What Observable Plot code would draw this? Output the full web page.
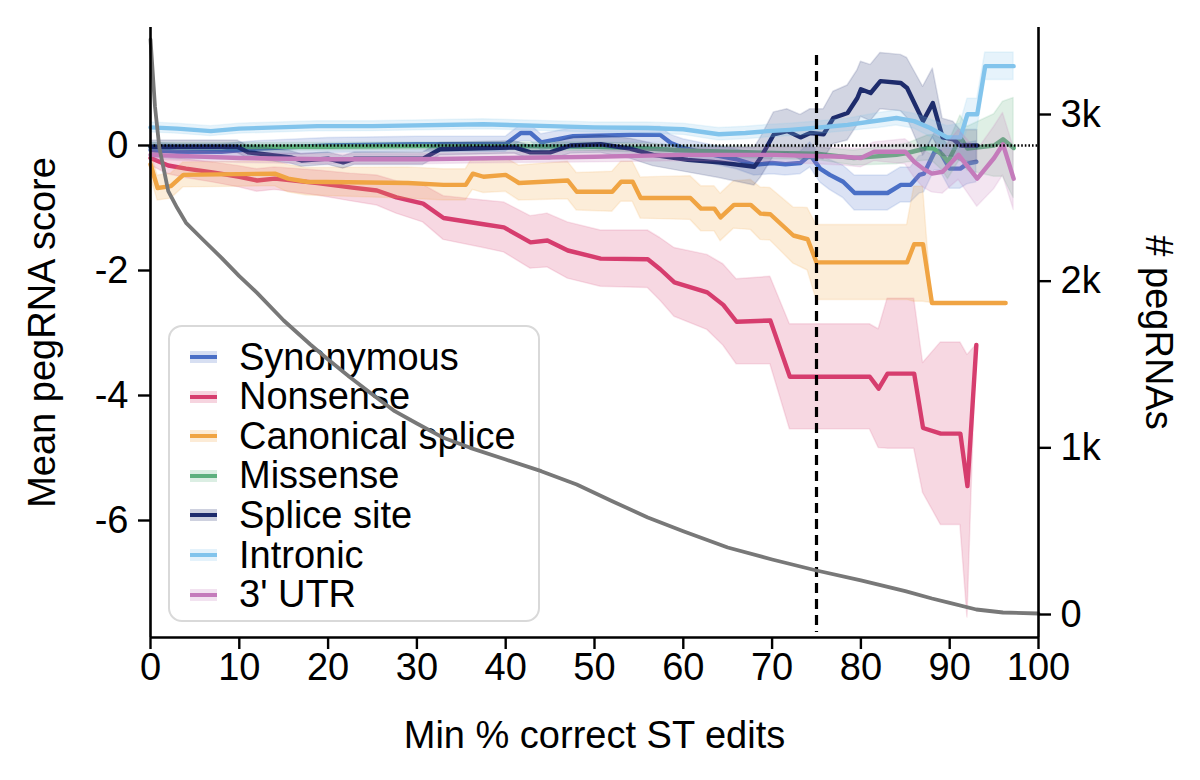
<!DOCTYPE html>
<html>
<head>
<meta charset="utf-8">
<script src="https://cdn.jsdelivr.net/npm/d3@7"></script>
<script src="https://cdn.jsdelivr.net/npm/@observablehq/plot@0.6"></script>
<style>
  body { margin: 0; background: white; }
  #wrap { position: relative; width: 1200px; height: 780px; font-family: 'Liberation Sans', Arial, Helvetica, sans-serif; }
  #legend { position: absolute; left: 168px; top: 325px; width: 368px; height: 293px; border: 2px solid #d9d9d9; border-radius: 14px; background: white; z-index: 0; }
  #chart { position: absolute; left: 0; top: 0; z-index: 1; }
  .row { position: absolute; left: 20px; height: 40px; display: flex; align-items: center; font-size: 38px; color: #000; white-space: nowrap; }
  .hd { position: relative; width: 27px; height: 12px; margin-right: 22px; }
  .hd .band { position: absolute; left: 0; top: 0; width: 27px; height: 12px; opacity: 0.22; }
  .hd .ln { position: absolute; left: 0; top: 4px; width: 27px; height: 4px; }
</style>
</head>
<body>
<div id="wrap">
  <div id="legend"></div>
  <div id="chart"></div>
</div>
<script>
// ---- categories and colours ----
const categories = ["Synonymous", "Nonsense", "Canonical splice", "Missense", "Splice site", "Intronic", "3' UTR"];
const colors = ["#4a6fc6", "#d63d6e", "#f0a443", "#5db07e", "#1e2c6c", "#82c4ec", "#c47bbb"];

// ---- series (x = min % correct ST edits, mean score, CI half-width) ----
const synX = [0, 3, 8, 12, 20, 30, 40, 41.7, 42.8, 44, 47.6, 54, 57.4, 58.6, 60, 63.4, 66, 68, 70, 71.5, 73.2, 74.3, 75.4, 76.5, 78, 79.3, 83, 84.5, 85.6, 86.6, 87.1, 88.3, 88.9, 90, 91.2, 92, 93];
const synMean = [-0.07, -0.1, -0.1, -0.05, 0, 0.02, 0.02, 0.2, 0.2, 0.05, 0.15, 0.17, 0.17, 0.04, -0.04, -0.15, -0.22, -0.31, -0.28, -0.3, -0.28, -0.15, -0.37, -0.47, -0.58, -0.76, -0.76, -0.63, -0.63, -0.47, -0.45, -0.1, -0.1, -0.37, -0.37, -0.29, -0.26];
const synErr = [0.12, 0.12, 0.12, 0.12, 0.12, 0.12, 0.12, 0.13, 0.13, 0.13, 0.13, 0.13, 0.13, 0.13, 0.14, 0.15, 0.16, 0.17, 0.18, 0.18, 0.18, 0.2, 0.22, 0.24, 0.26, 0.28, 0.28, 0.28, 0.28, 0.3, 0.3, 0.3, 0.3, 0.32, 0.32, 0.33, 0.33];

const nonX = [0, 2, 4, 7, 10, 12, 14, 18.8, 22.5, 25.5, 27.7, 30.7, 33, 37.5, 39.8, 42.8, 44.7, 47, 50.7, 56, 57.4, 59, 62.7, 64.5, 66, 69.8, 72, 81, 82, 83, 86, 87, 89, 91.2, 92, 93];
const nonMean = [-0.2, -0.32, -0.37, -0.43, -0.5, -0.56, -0.53, -0.6, -0.67, -0.72, -0.83, -0.93, -1.16, -1.26, -1.31, -1.55, -1.52, -1.68, -1.81, -1.82, -1.98, -2.19, -2.35, -2.55, -2.82, -2.8, -3.7, -3.7, -3.89, -3.65, -3.65, -4.52, -4.61, -4.61, -5.45, -3.19];
const nonErr = [0.12, 0.14, 0.15, 0.16, 0.17, 0.18, 0.18, 0.2, 0.22, 0.24, 0.26, 0.3, 0.35, 0.38, 0.4, 0.42, 0.43, 0.45, 0.45, 0.46, 0.5, 0.55, 0.6, 0.65, 0.68, 0.7, 0.84, 0.84, 0.95, 1.2, 1.2, 1.04, 1.46, 1.46, 2.1, 0];

const canX = [0, 0.8, 2.3, 3.7, 14, 15.5, 17.6, 29, 33, 35.5, 36.3, 37.5, 40, 41.5, 47, 48, 52, 53, 54.3, 55.2, 60.8, 62, 63.5, 64.2, 65.7, 67.6, 68.7, 69.8, 72.4, 74, 75, 85.2, 86, 87, 88, 96.3];
const canMean = [-0.3, -0.68, -0.65, -0.47, -0.45, -0.53, -0.58, -0.6, -0.63, -0.63, -0.45, -0.5, -0.47, -0.6, -0.56, -0.74, -0.74, -0.58, -0.58, -0.84, -0.84, -1.01, -1.01, -1.15, -0.95, -0.95, -1.09, -1.1, -1.44, -1.5, -1.87, -1.87, -1.58, -1.58, -2.52, -2.52];
const canErr = [0.2, 0.2, 0.2, 0.2, 0.2, 0.22, 0.22, 0.25, 0.25, 0.25, 0.26, 0.26, 0.27, 0.28, 0.3, 0.3, 0.32, 0.32, 0.32, 0.33, 0.35, 0.36, 0.36, 0.38, 0.38, 0.4, 0.42, 0.42, 0.45, 0.5, 0.6, 0.6, 0.92, 0.92, 0, 0];

const misX = [0, 10, 20, 30, 40, 50, 55, 60, 65, 70, 75, 79.2, 84, 85.2, 87.5, 88.2, 89.2, 89.8, 91.2, 92, 95, 96, 97.2];
const misMean = [-0.02, -0.02, -0.02, -0.01, -0.01, -0.02, -0.04, -0.08, -0.1, -0.12, -0.13, -0.2, -0.15, -0.12, -0.04, -0.05, -0.15, -0.26, 0.13, -0.05, 0, 0.1, -0.04];
const misErr = [0.06, 0.06, 0.06, 0.06, 0.06, 0.07, 0.07, 0.08, 0.09, 0.1, 0.1, 0.12, 0.15, 0.15, 0.2, 0.22, 0.25, 0.28, 0.35, 0.35, 0.5, 0.6, 0.8];

const splX = [0, 9.8, 11, 15.8, 17, 20, 21.7, 23, 30.7, 32.6, 41, 42.8, 45, 47.3, 50.7, 54, 56.6, 60.5, 64, 68, 68.7, 70.2, 71.7, 73.2, 74.3, 75.8, 76.9, 78.5, 79.6, 80, 81.1, 82.2, 84.5, 85.2, 87, 88.1, 89.2, 90.4, 91.2, 93.1];
const splMean = [-0.02, -0.02, -0.11, -0.19, -0.24, -0.21, -0.27, -0.21, -0.21, -0.06, -0.03, -0.11, -0.11, 0, 0.02, -0.05, -0.15, -0.23, -0.27, -0.34, -0.2, 0.18, 0.23, 0.13, 0.2, 0.18, 0.44, 0.52, 0.76, 0.9, 0.84, 1.03, 1.0, 0.92, 0.39, 0.68, 0.13, 0.1, 0, 0];
const splErr = [0.1, 0.1, 0.1, 0.1, 0.1, 0.1, 0.1, 0.1, 0.1, 0.1, 0.1, 0.11, 0.12, 0.13, 0.14, 0.16, 0.18, 0.2, 0.25, 0.3, 0.32, 0.35, 0.35, 0.36, 0.38, 0.4, 0.42, 0.44, 0.44, 0.44, 0.45, 0.45, 0.45, 0.48, 0.55, 0.55, 0.3, 0.28, 0.25, 0.25];

const intX = [0, 3, 6.8, 10, 18.8, 25, 37.5, 45, 50, 56, 60, 64, 67, 69.5, 72, 74.7, 78.5, 82, 84, 86, 87.8, 89.7, 91.2, 92, 93.1, 94, 97.2];
const intMean = [0.29, 0.27, 0.23, 0.27, 0.31, 0.31, 0.34, 0.31, 0.29, 0.28, 0.26, 0.18, 0.2, 0.23, 0.25, 0.28, 0.33, 0.4, 0.44, 0.39, 0.28, 0.13, 0.13, 0.5, 0.5, 1.27, 1.27];
const intErr = [0.08, 0.08, 0.08, 0.08, 0.08, 0.08, 0.08, 0.08, 0.08, 0.09, 0.09, 0.1, 0.1, 0.1, 0.1, 0.1, 0.1, 0.12, 0.12, 0.12, 0.14, 0.18, 0.22, 0.25, 0.25, 0.22, 0.22];

const utrX = [0, 10, 20, 30, 40, 50, 60, 70, 78, 80, 81.5, 85, 86, 87, 88, 89.2, 91, 93.1, 95, 96, 97.2];
const utrMean = [-0.15, -0.2, -0.22, -0.22, -0.2, -0.18, -0.15, -0.15, -0.18, -0.2, -0.1, -0.1, -0.26, -0.37, -0.45, -0.42, -0.15, -0.53, -0.2, 0.02, -0.53];
const utrErr = [0.08, 0.08, 0.08, 0.08, 0.08, 0.09, 0.1, 0.12, 0.14, 0.15, 0.15, 0.2, 0.25, 0.3, 0.3, 0.35, 0.4, 0.45, 0.5, 0.5, 0.5];

// ---- number of pegRNAs (right axis) ----
const countX = [0, 0.5, 1, 2, 3, 4, 6, 8, 10, 12, 15, 18, 20, 22.5, 25, 27.5, 30, 33, 36, 40, 44, 48, 52, 56, 60, 65, 70, 75, 80, 85, 88, 90, 93, 96, 100];
const countN = [3450, 3050, 2800, 2540, 2440, 2350, 2244, 2140, 2030, 1930, 1764, 1620, 1530, 1422, 1320, 1220, 1146, 1060, 1000, 930, 860, 780, 680, 582, 500, 402, 330, 264, 205, 140, 96, 70, 30, 12, 6];

// ---- ticks ----
const xTicks = [0, 10, 20, 30, 40, 50, 60, 70, 80, 90, 100];
const yTicks = [0, -2, -4, -6];
const yTickLabels = ["0", "-2", "-4", "-6"];
const rightTicks = [0, 1000, 2000, 3000];
const rightTickLabels = ["0", "1k", "2k", "3k"];
const threshold = [75];
const yDomain = [-7.872, 1.888];
const rightDomain = [-138, 3522]; // right-axis counts at bottom/top of the frame
const thresholdSpan = [1.44, -7.79];

// map counts onto the left (score) axis so both share the plot's y scale
const toLeft = c => yDomain[0] + (c - rightDomain[0]) * (yDomain[1] - yDomain[0]) / (rightDomain[1] - rightDomain[0]);

const seriesX = [synX, nonX, canX, misX, splX, intX, utrX];
const seriesMean = [synMean, nonMean, canMean, misMean, splMean, intMean, utrMean];
const seriesErr = [synErr, nonErr, canErr, misErr, splErr, intErr, utrErr];

const tables = categories.map((cat, k) => seriesX[k].map((x, i) => ({
  cat, x, mean: seriesMean[k][i], lo: seriesMean[k][i] - seriesErr[k][i], hi: seriesMean[k][i] + seriesErr[k][i]
})));
const countRows = countX.map((x, i) => ({x, v: toLeft(countN[i])}));
const yLabelMap = new Map(yTicks.map((t, i) => [t, yTickLabels[i]]));
const rightVals = rightTicks.map(toLeft);
const rightLabelMap = new Map(rightVals.map((t, i) => [t, rightTickLabels[i]]));

const FONT = 38;
const marks = [];
categories.forEach((cat, k) => {
  marks.push(Plot.areaY(tables[k], {x: "x", y1: "lo", y2: "hi", fill: colors[k], fillOpacity: 0.2, stroke: colors[k], strokeOpacity: 0.14, strokeWidth: 1.5}));
  marks.push(Plot.lineY(tables[k], {x: "x", y: "mean", stroke: colors[k], strokeWidth: 4.4, strokeLinejoin: "round"}));
});
marks.push(
  Plot.ruleY([0], {stroke: "black", strokeWidth: 2.4, strokeDasharray: "1.6,2"}),
  Plot.ruleX(threshold, {y1: thresholdSpan[0], y2: thresholdSpan[1], stroke: "black", strokeWidth: 3.2, strokeDasharray: "10,6"}),
  Plot.lineY(countRows, {x: "x", y: "v", stroke: "#787878", strokeWidth: 3.8, strokeLinejoin: "round"}),
  // spines
  Plot.ruleX([xTicks[0], xTicks[xTicks.length - 1]], {stroke: "black", strokeWidth: 2.6}),
  Plot.ruleY([yDomain[0]], {stroke: "black", strokeWidth: 2.6}),
  // axes
  Plot.axisX(xTicks, {anchor: "bottom", tickSize: 12, tickPadding: 4, fontSize: FONT, strokeWidth: 2.4, label: null}),
  Plot.axisY(yTicks, {anchor: "left", tickSize: 12, tickPadding: 10, fontSize: FONT, strokeWidth: 2.4, label: null, tickFormat: d => yLabelMap.get(d)}),
  Plot.axisY(rightVals, {anchor: "right", tickSize: 12, tickPadding: 10, fontSize: FONT, strokeWidth: 2.4, label: null, tickFormat: d => rightLabelMap.get(d)}),
  // titles
  Plot.text(["Mean pegRNA score"], {frameAnchor: "left", textAnchor: "middle", lineAnchor: "middle", rotate: -90, dx: -108, fontSize: FONT, fill: "black"}),
  Plot.text(["# pegRNAs"], {frameAnchor: "right", textAnchor: "middle", lineAnchor: "middle", rotate: 90, dx: 120, fontSize: FONT, fill: "black"}),
  Plot.text(["Min % correct ST edits"], {frameAnchor: "bottom", textAnchor: "middle", lineAnchor: "middle", dy: 98, fontSize: FONT, fill: "black"})
);

const chart = Plot.plot({
  width: 1200,
  height: 780,
  marginLeft: 150,
  marginRight: 162,
  marginTop: 27,
  marginBottom: 143,
  x: {domain: [0, 100]},
  y: {domain: yDomain},
  style: {background: "transparent", fontFamily: "'Liberation Sans', Arial, Helvetica, sans-serif", color: "black", overflow: "visible"},
  marks
});
document.getElementById("chart").appendChild(chart);

// legend (sits beneath the SVG so the count line passes over it, as in the original)
const legend = document.getElementById("legend");
categories.forEach((cat, k) => {
  const row = document.createElement("div");
  row.className = "row";
  row.style.top = (10 + k * 39.6) + "px";
  row.innerHTML = `<div class="hd"><div class="band" style="background:${colors[k]}"></div><div class="ln" style="background:${colors[k]}"></div></div><span>${cat}</span>`;
  legend.appendChild(row);
});
</script>
</body>
</html>
